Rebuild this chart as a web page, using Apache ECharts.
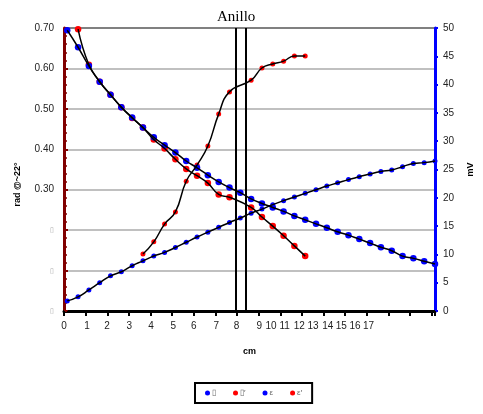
<!DOCTYPE html>
<html>
<head>
    <meta charset="UTF-8">
    <title></title>
    <script src="https://cdn.jsdelivr.net/npm/echarts@6/dist/echarts.min.js"></script>
</head>
<body style="margin:0">
<div id="main" style="width: 483px;height:414px;"></div>
<script type="text/javascript">
    // posiciones (cm)
    var xs = [0.15, 0.65, 1.15, 1.65, 2.15, 2.65, 3.15, 3.65, 4.15, 4.65, 5.15, 5.65,
        6.15, 6.65, 7.15, 7.65, 8.15, 8.65, 9.15, 9.65, 10.15, 10.65, 11.15, 11.65,
        12.15, 12.65, 13.15, 13.65, 14.15, 14.65, 15.15, 15.65, 16.15, 16.65, 17.15];

    // I (rad), eje izquierdo
    var serieI = [0.025, 0.035, 0.052, 0.070, 0.087, 0.097, 0.112, 0.124, 0.136, 0.145, 0.157, 0.170,
        0.183, 0.195, 0.207, 0.219, 0.230, 0.242, 0.252, 0.263, 0.273, 0.282, 0.291, 0.300,
        0.309, 0.317, 0.325, 0.332, 0.339, 0.345, 0.349, 0.357, 0.365, 0.367, 0.371];
    // I' (rad), eje izquierdo
    var serieI2 = [null, null, null, null, null, null, null, 0.141, 0.171, 0.215, 0.245, 0.321,
        0.361, 0.408, 0.487, 0.542, null, 0.571, 0.601, 0.611, 0.618, 0.631, 0.631];
    // ε (mV), eje derecho
    var serieE = [49.6, 46.6, 43.3, 40.5, 38.2, 36.0, 34.2, 32.4, 30.7, 29.3, 28.0, 26.5,
        25.3, 24.0, 22.8, 21.8, 20.9, 19.8, 19.0, 18.3, 17.6, 16.8, 16.1, 15.4,
        14.7, 14.0, 13.4, 12.7, 12.0, 11.25, 10.65, 9.7, 9.3, 8.8, 8.3];
    // ε' (mV), eje derecho
    var serieE2 = [null, 49.8, 43.5, 40.5, 38.2, 36.0, 34.1, 32.4, 30.3, 28.7, 26.8, 25.1,
        23.9, 22.6, 20.6, 20.1, null, 18.3, 16.6, 15.0, 13.3, 11.5, 9.7];

    var xLabels = ['0', '1', '2', '3', '4', '5', '6', '7', '8', '9', '10', '11', '12', '13', '14', '15', '16', '17'];
    var xLabelAt = [0, 1.07, 1.99, 3.02, 4.02, 5.05, 6.0, 7.04, 7.97, 9.03, 9.57, 10.2,
        10.88, 11.51, 12.19, 12.82, 13.45, 14.08];
    var anillo = [7.94, 8.39];
    var names = ['\u25AF', '\u25AF\u2032', '\u03B5', '\u03B5\u2032'];

    function pares(vals) {
        var out = [];
        for (var i = 0; i < vals.length; i++) {
            if (vals[i] != null) out.push([xs[i], vals[i]]);
        }
        return out;
    }

    // puntos de color debajo, linea negra encima (como en Excel)
    function puntos(name, vals, eje, color, size) {
        return {
            name: name, type: 'scatter', yAxisIndex: eje, data: pares(vals),
            symbol: 'circle', symbolSize: size, itemStyle: {color: color, opacity: 1}, z: 2
        };
    }
    function linea(vals, eje) {
        return {
            type: 'line', yAxisIndex: eje, data: pares(vals), smooth: true, showSymbol: false,
            lineStyle: {color: '#000', width: 1.5}, z: 5, silent: true
        };
    }

    var font = 'Liberation Sans, Arial, sans-serif';
    var myChart = echarts.init(document.getElementById('main'));

    var series = [
        puntos(names[0], serieI, 0, '#0000ff', 5),
        puntos(names[1], serieI2, 0, '#ff0000', 5),
        puntos(names[3], serieE2, 1, '#ff0000', 6.5),
        puntos(names[2], serieE, 1, '#0000ff', 6.5),
        linea(serieI, 0),
        linea(serieI2, 0),
        linea(serieE2, 1),
        linea(serieE, 1)
    ];
    series[7].markLine = {
        silent: true,
        symbol: 'none',
        label: {show: false},
        lineStyle: {color: '#000', width: 2, type: 'solid'},
        data: [{xAxis: anillo[0]}, {xAxis: anillo[1]}]
    };

    option = {
        animation: false,
        title: {
            text: 'Anillo',
            left: 217,
            top: 10,
            padding: 0,
            textStyle: {fontFamily: 'Liberation Serif, Times New Roman, serif', fontSize: 15, fontWeight: 'normal', color: '#000'}
        },
        legend: {
            left: 195,
            top: 383,
            data: names,
            icon: 'circle',
            itemWidth: 5,
            itemHeight: 5,
            itemGap: 17,
            padding: [6, 10],
            borderColor: '#000',
            borderWidth: 2,
            textStyle: {fontFamily: font, fontSize: 8, color: '#666', padding: [-6, 0, 0, -3]}
        },
        grid: {left: 64, right: 39, top: 28, bottom: 103},
        xAxis: {
            type: 'value',
            min: 0,
            max: 17.15,
            interval: 1,
            name: 'cm',
            nameLocation: 'middle',
            nameGap: 36,
            nameTextStyle: {fontFamily: font, fontSize: 9, fontWeight: 'bold', color: '#000'},
            axisLine: {onZero: false, lineStyle: {color: '#000', width: 3}},
            axisTick: {length: 5, lineStyle: {color: '#000', width: 2}},
            minorTick: {show: true, splitNumber: 6, length: 2, lineStyle: {color: '#000', width: 1}},
            axisLabel: {
                customValues: xLabelAt,
                fontFamily: font, fontSize: 10, color: '#222', margin: 10,
                formatter: function (v) {
                    var i = xLabelAt.indexOf(v);
                    return i >= 0 ? xLabels[i] : '';
                }
            },
            splitLine: {show: false}
        },
        yAxis: [{
            type: 'value',
            min: 0,
            max: 0.7,
            interval: 0.1,
            name: 'rad @~22\u00B0',
            nameLocation: 'middle',
            nameGap: 42,
            nameTextStyle: {fontFamily: font, fontSize: 9, fontWeight: 'bold', color: '#000', padding: [0, 0, 0, -30]},
            axisLine: {show: true, lineStyle: {color: '#800000', width: 3}},
            axisTick: {inside: true, length: 4, lineStyle: {color: '#800000', width: 2}},
            minorTick: {show: true, splitNumber: 5, length: 3, lineStyle: {color: '#800000', width: 1.5}},
            axisLabel: {
                fontFamily: font, fontSize: 10, color: '#222', margin: 10,
                formatter: function (v) {
                    return v < 0.25 ? '{b|\u25AF}' : v.toFixed(2);
                },
                rich: {b: {fontSize: 7, color: '#aaa'}}
            },
            splitLine: {lineStyle: {color: ['#c0c0c0', '#c0c0c0', '#c0c0c0', '#c0c0c0', '#c0c0c0', '#c0c0c0', '#c0c0c0', '#808080'], width: 2}}
        }, {
            type: 'value',
            min: 0,
            max: 50,
            interval: 5,
            position: 'right',
            name: 'mV',
            nameLocation: 'middle',
            nameGap: 31,
            nameTextStyle: {fontFamily: font, fontSize: 9, fontWeight: 'bold', color: '#000'},
            axisLine: {show: true, lineStyle: {color: '#0000ff', width: 3}},
            axisTick: {length: 3, lineStyle: {color: '#0000ff', width: 2}},
            minorTick: {show: true, splitNumber: 5, length: 2, lineStyle: {color: '#0000ff', width: 1.5}},
            axisLabel: {fontFamily: font, fontSize: 10, color: '#222', margin: 8},
            splitLine: {show: false}
        }],
        series: series
    };
    myChart.setOption(option);
</script>
</body>
</html>
